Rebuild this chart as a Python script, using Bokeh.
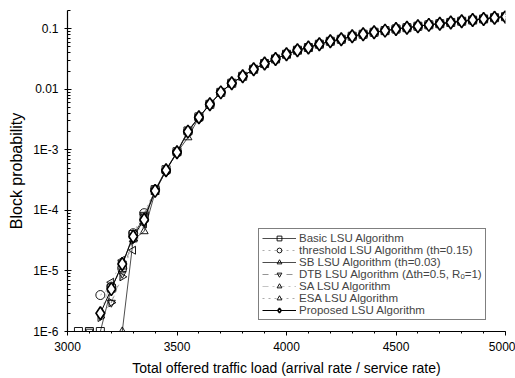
import math
from bokeh.plotting import figure
from bokeh.models import FixedTicker, Legend, LegendItem, ColumnDataSource
from bokeh.embed import file_html
from bokeh.resources import INLINE

nan = float("nan")

# Offered load (arrival rate / service rate), low region where series differ
load_low = [3050, 3100, 3150, 3200, 3250, 3300, 3350, 3400, 3450, 3500, 3550, 3600]
# Upper region where all algorithms coincide
load_tail = [3650, 3700, 3750, 3800, 3850, 3900, 3950, 4000, 4050, 4100, 4150, 4200,
             4250, 4300, 4350, 4400, 4450, 4500, 4550, 4600, 4650, 4700, 4750, 4800,
             4850, 4900, 4950, 5000]
tail = [5.65e-3, 8.9e-3, 0.0126, 0.0164, 0.0214, 0.0266, 0.0317, 0.0379, 0.0442, 0.0489,
        0.0555, 0.0621, 0.067, 0.0752, 0.0811, 0.0875, 0.093, 0.099, 0.104, 0.110,
        0.116, 0.121, 0.127, 0.133, 0.139, 0.145, 0.152, 0.158]

basic_low     = [1e-6, 1e-6, 1e-6, 5.2e-6, 1.25e-5, 4.0e-5, 7.5e-5, 2.2e-4, 4.7e-4, 9.3e-4, 2.05e-3, 3.5e-3]
threshold_low = [nan, nan, 4.0e-6, 5.5e-6, 1.1e-5, 4.2e-5, 9.0e-5, 2.2e-4, 4.5e-4, 9.2e-4, 2.0e-3, 3.4e-3]
sb_low        = [nan, nan, nan, nan, 1e-6, 3.3e-5, 4.5e-5, 2.0e-4, 4.6e-4, 9.0e-4, 1.6e-3, 3.4e-3]
dtb_low       = [nan, 1e-6, nan, 3.0e-6, 9.0e-6, 3.5e-5, 8.5e-5, 2.1e-4, 4.5e-4, 9.0e-4, 2.0e-3, 3.5e-3]
sa_low        = [nan, nan, 2.0e-6, 6.5e-6, 1.5e-5, 2.2e-5, 6.0e-5, 2.1e-4, 4.6e-4, 9.1e-4, 2.0e-3, 3.45e-3]
esa_low       = [nan, nan, 1.7e-6, 3.0e-6, 8.0e-6, 3.2e-5, 7.0e-5, 2.1e-4, 4.6e-4, 9.1e-4, 2.0e-3, 3.45e-3]
proposed_low  = [nan, nan, 2.0e-6, 5.0e-6, 1.3e-5, 3.7e-5, 7.0e-5, 2.1e-4, 4.6e-4, 9.1e-4, 2.0e-3, 3.45e-3]

y_ticks = [1e-6, 1e-5, 1e-4, 1e-3, 1e-2, 1e-1]
y_tick_labels = ["1E-6", "1E-5", "1E-4", "1E-3", "0.01", "0.1"]
x_ticks = [3000, 3500, 4000, 4500, 5000]

# name, data, marker, size, angle, line colour, dash, line width
series = [
    ("Basic LSU Algorithm", basic_low, "square", 8, 0.0, "black", "solid", 0.7),
    ("threshold LSU Algorithm (th=0.15)", threshold_low, "circle", 9, 0.0, "#888888", "dotted", 0.7),
    ("SB LSU Algorithm (th=0.03)", sb_low, "triangle", 8, 0.0, "black", "solid", 0.7),
    ("DTB LSU Algorithm (\u0394th=0.5, R\u2092=1)", dtb_low, "inverted_triangle", 8, 0.0, "#666666", "dashed", 0.7),
    ("SA LSU Algorithm", sa_low, "triangle", 8, math.pi / 2, "#aaaaaa", "dashdot", 0.7),
    ("ESA LSU Algorithm", esa_low, "triangle", 8, -math.pi / 2, "#888888", "dotted", 0.7),
    ("Proposed LSU Algorithm", proposed_low, "diamond", 13, 0.0, "black", "solid", 1.0),
]

p = figure(width=515, height=378, output_backend="svg", toolbar_location=None,
           y_axis_type="log", x_range=(3000, 5000), y_range=(1e-6, 0.2),
           min_border_left=67, min_border_right=10, min_border_top=10, min_border_bottom=47)
p.outline_line_color = None
p.xgrid.visible = False
p.ygrid.visible = False
p.background_fill_color = "white"
p.border_fill_color = "white"

items = []
for name, low, marker, size, ang, lc, dash, lw in series:
    n = len(load_low) + len(load_tail)
    src = ColumnDataSource(dict(x=load_low + load_tail, y=low + tail, a=[ang] * n))
    is_prop = marker == "diamond"
    r_line = p.line("x", "y", source=src, line_color=lc, line_width=lw, line_dash=dash)
    r_pts = p.scatter("x", "y", source=src, marker=marker, size=size, angle="a",
                      fill_color="white" if is_prop else None, line_color="black",
                      line_width=1.6 if is_prop else 0.9)
    items.append(LegendItem(label=name, renderers=[r_line, r_pts], index=len(load_low)))

legend = Legend(items=items, location=(191, 11), label_text_font="Liberation Sans",
                label_text_font_size="11.5px", glyph_height=12, glyph_width=34,
                label_height=12, spacing=0, padding=3, margin=0, label_standoff=3,
                border_line_color="black", border_line_width=1,
                background_fill_color="white", background_fill_alpha=1.0)
p.add_layout(legend)

p.xaxis.ticker = FixedTicker(ticks=x_ticks,
                             minor_ticks=[v for v in range(3000, 5001, 100)])
p.yaxis.ticker = FixedTicker(ticks=y_ticks,
                             minor_ticks=[m * 10.0 ** e for e in range(-6, 0) for m in range(1, 10)])
p.yaxis.major_label_overrides = {t: l for t, l in zip(y_ticks, y_tick_labels)}

for ax in (p.xaxis, p.yaxis):
    ax.axis_line_color = "black"
    ax.axis_line_width = 1.2
    ax.major_tick_line_color = "black"
    ax.minor_tick_line_color = "black"
    ax.major_label_text_font = "Liberation Sans"
    ax.major_label_text_font_size = "12px"
    ax.major_label_text_color = "black"
    ax.axis_label_text_font = "Liberation Sans"
    ax.axis_label_text_font_style = "normal"
    ax.axis_label_text_color = "black"

p.xaxis.major_tick_out = 4
p.xaxis.major_tick_in = 0
p.xaxis.minor_tick_out = 2
p.xaxis.minor_tick_in = 0
p.xaxis.major_label_standoff = 6
p.xaxis.axis_label = "Total offered traffic load (arrival rate / service rate)"
p.xaxis.axis_label_text_font_size = "14px"
p.xaxis.axis_label_standoff = 6

p.yaxis.major_tick_in = 4
p.yaxis.major_tick_out = 3
p.yaxis.minor_tick_in = 3
p.yaxis.minor_tick_out = 0
p.yaxis.major_label_standoff = 6
p.yaxis.axis_label = "Block probability"
p.yaxis.axis_label_text_font_size = "16px"
p.yaxis.axis_label_standoff = 5

open("out.html", "w").write(file_html(p, INLINE))
